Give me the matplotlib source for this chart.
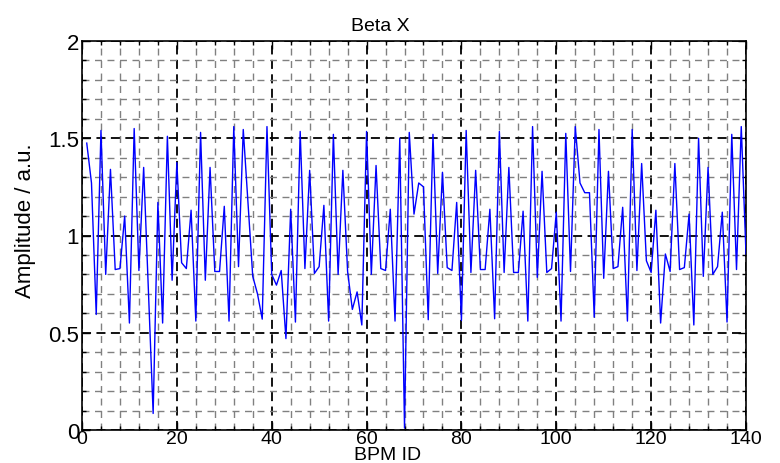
import matplotlib
matplotlib.use("Agg")
import matplotlib.pyplot as plt
from matplotlib.ticker import MultipleLocator

plt.rcParams['font.family'] = ['Liberation Sans', 'DejaVu Sans']

bpm_id = list(range(1, 141))
amplitude = [
    1.475, 1.27, 0.594, 1.54, 0.80, 1.34, 0.825, 0.83, 1.10, 0.55,
    1.55, 0.82, 1.35, 0.72, 0.085, 1.17, 0.55, 1.51, 0.77, 1.375,
    0.86, 0.83, 1.13, 0.56, 1.53, 0.77, 1.35, 0.815, 0.815, 1.15,
    0.56, 1.56, 0.84, 1.545, 1.17, 0.79, 0.70, 0.57, 1.56, 0.80,
    0.745, 0.82, 0.47, 1.135, 0.555, 1.535, 0.83, 1.335, 0.805, 0.84,
    1.155, 0.56, 1.52, 0.80, 1.335, 0.815, 0.62, 0.71, 0.54, 1.535,
    0.80, 1.36, 0.83, 0.82, 1.135, 0.56, 1.50, 0.01, 1.53, 1.11,
    1.27, 1.25, 0.567, 1.52, 0.805, 1.325, 0.835, 0.82, 1.17, 0.563,
    1.54, 0.81, 1.335, 0.825, 0.825, 1.135, 0.572, 1.535, 0.81, 1.35,
    0.81, 0.81, 1.125, 0.56, 1.56, 0.785, 1.33, 0.81, 0.83, 1.12,
    0.56, 1.525, 0.815, 1.56, 1.27, 1.22, 1.22, 0.58, 1.545, 0.78,
    1.33, 0.83, 0.84, 1.145, 0.56, 1.545, 0.82, 1.37, 0.87, 0.81,
    1.13, 0.55, 0.905, 0.815, 1.37, 0.825, 0.835, 1.11, 0.54, 1.50,
    0.79, 1.35, 0.80, 0.84, 1.12, 0.555, 1.52, 0.825, 1.56, 0.905,
]

fig = plt.figure(figsize=(7.8, 4.64), dpi=100)
ax = fig.add_axes([82 / 780, 1 - 431 / 464, 664 / 780, 389 / 464])

ax.plot(bpm_id, amplitude, color='#0000ff', lw=1.0, zorder=3)

ax.set_xlim(0, 140)
ax.set_ylim(0, 2)
ax.xaxis.set_major_locator(MultipleLocator(20))
ax.xaxis.set_minor_locator(MultipleLocator(4))
ax.yaxis.set_major_locator(MultipleLocator(0.5))
ax.yaxis.set_minor_locator(MultipleLocator(0.1))
ax.set_yticks([0, 0.5, 1, 1.5, 2], ['0', '0.5', '1', '1.5', '2'])

ax.grid(which='major', color='black', ls=(0, (5, 3)), lw=1.3)
ax.grid(which='minor', color='#808080', ls=(0, (5, 4)), lw=1.0)
ax.set_axisbelow(True)

ax.tick_params(which='both', direction='in', top=True, right=True, width=1.0)
ax.tick_params(axis='x', labelsize=14, pad=0)
ax.tick_params(axis='y', labelsize=16, pad=2)
ax.tick_params(which='major', length=6)
ax.tick_params(which='minor', length=3)
for s in ax.spines.values():
    s.set_linewidth(1.2)

ax.set_title('Beta X', fontsize=14, pad=8, x=0.45)
ax.set_xlabel('BPM ID', fontsize=14)
ax.xaxis.label.set_va('bottom')
ax.xaxis.set_label_coords(0.46, -33.0 / 389)
ax.set_ylabel('Amplitude / a.u.', fontsize=16, labelpad=4)
ax.yaxis.set_label_coords(-0.07, 0.54)

fig.savefig('out.png', dpi=100)
